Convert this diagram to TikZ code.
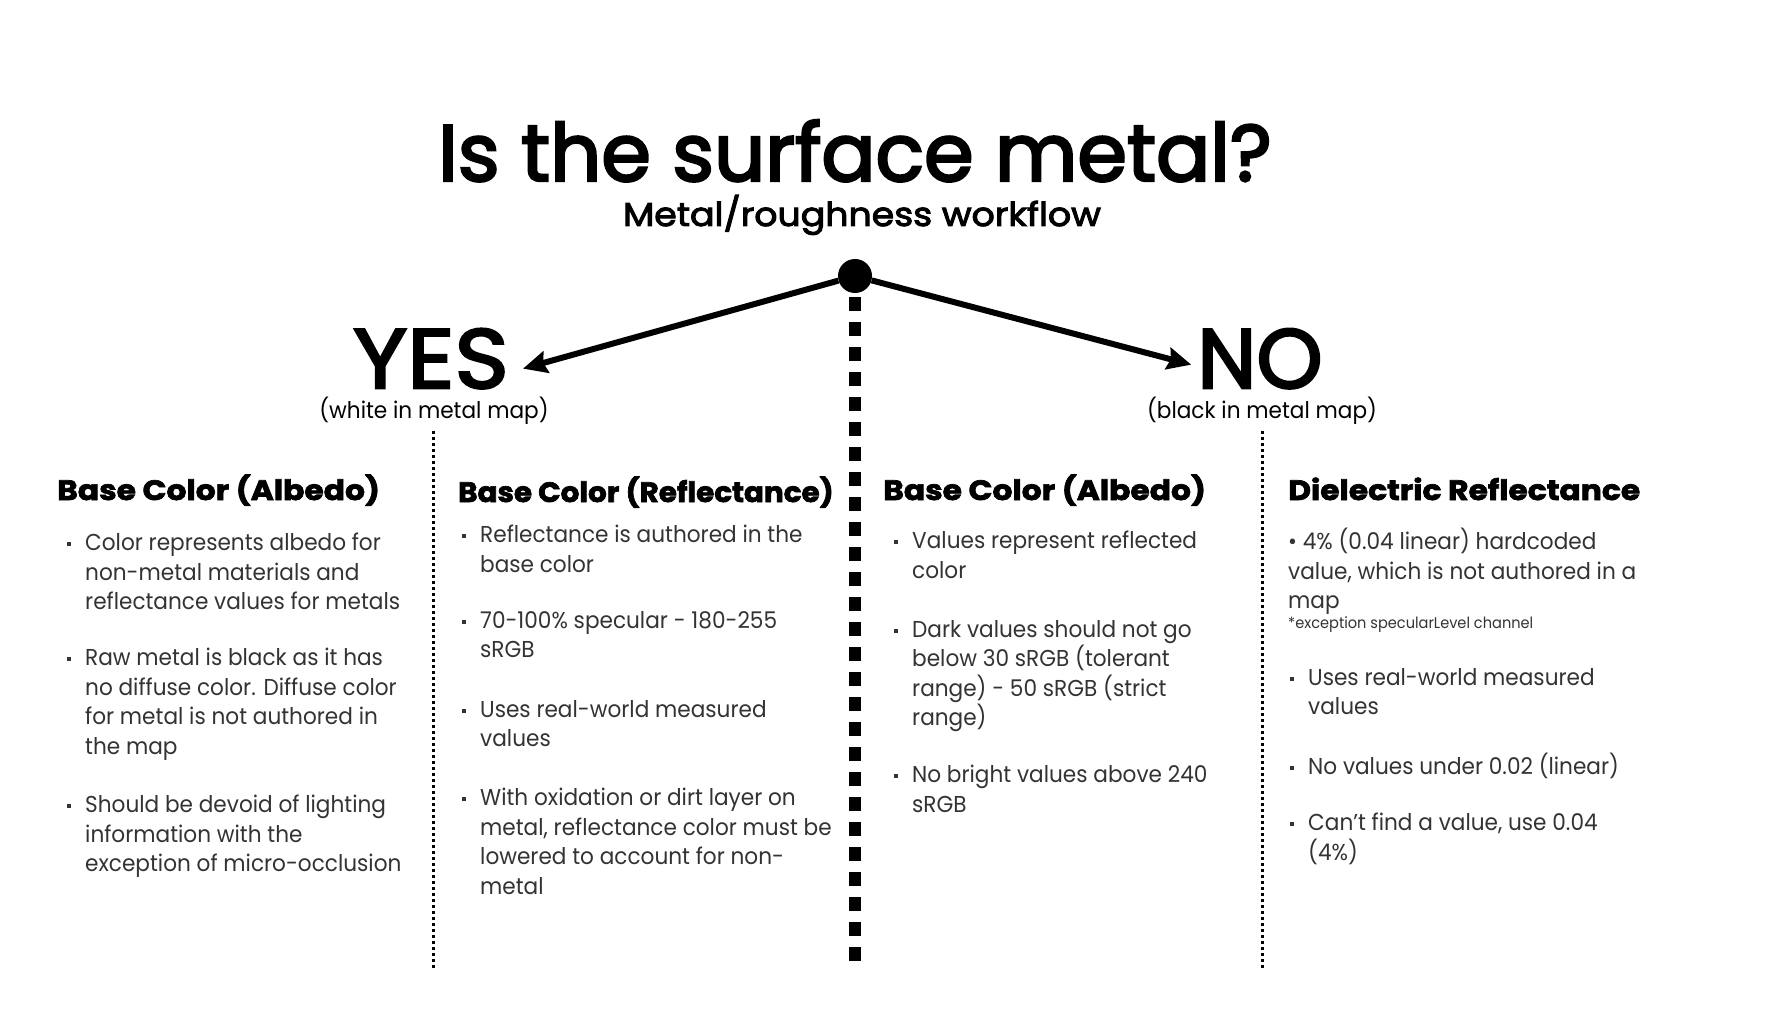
\documentclass[tikz,border=0pt]{standalone}
\usepackage{fontspec}
\setmainfont{Poppins}
\newfontfamily\titlefont{Poppins}[FakeBold=3]
\newfontfamily\medfont{Poppins}[FakeStretch=1.1, FakeBold=3]
\newfontfamily\headfont{Poppins}[FakeStretch=1.12, FakeBold=2.5]
\newfontfamily\bodyfont{Poppins}[FakeStretch=0.94]
\usetikzlibrary{arrows.meta, positioning, calc}

\newcommand\bul{\llap{\rule[4.5pt]{4pt}{4pt}\hspace{14pt}}}

\begin{document}
\begin{tikzpicture}[
      x=1pt, y=-1pt,
      bigtitle/.style={font=\titlefont\fontsize{80}{96}\selectfont, inner sep=0pt, anchor=base},
      subtitle/.style={font=\medfont\fontsize{33}{40}\selectfont, inner sep=0pt, anchor=base},
      answer/.style={font=\medfont\fontsize{84}{100}\selectfont, inner sep=0pt, anchor=base},
      mapnote/.style={font=\bodyfont\fontsize{23}{28}\selectfont, inner sep=0pt, anchor=base},
      colhead/.style={font=\headfont\bfseries\fontsize{28}{34}\selectfont, inner sep=0pt, anchor=base west},
      item/.style={font=\bodyfont\fontsize{23}{29.5}\selectfont, text=black!80, align=left, inner sep=0pt,
        anchor=north west, yshift=17pt, execute at begin node=\strut},
      smallnote/.style={font=\bodyfont\fontsize{15.5}{18}\selectfont, text=black!80, inner sep=0pt, anchor=base west},
      arrow/.style={-{Stealth[length=24pt, width=22pt, inset=3pt]}, line width=6pt},
      divider/.style={line width=3pt, dash pattern=on 3pt off 3pt},
      midline/.style={line width=12pt, dash pattern=on 14pt off 11pt}
    ]
    \useasboundingbox (0,0) rectangle (1778,1024);

    % question and the split
    \node[bigtitle] (title) at (855,181) {Is the surface metal?};
    \node[subtitle] (workflow) at (862,226) {Metal/roughness workflow};
    \node[circle, fill, inner sep=0pt, minimum size=34pt] (split) at (855,276) {};

    \node[answer, inner xsep=14pt] (yes) at (431,388) {YES};
    \node[answer, font=\titlefont\fontsize{84}{100}\selectfont, inner xsep=6pt] (no) at (1260,388) {NO};
    \node[mapnote] (yesnote) at (434,418) {(white in metal map)};
    \node[mapnote] (nonote) at (1262,418) {(black in metal map)};

    \draw[arrow] (split) -- ([yshift=-10pt]yes.east);
    \draw[arrow] (split) -- ([yshift=-6pt]no.west);

    % column separators
    \coordinate (midend) at (855,962);
    \draw[midline] ([yshift=-4pt]split.south) -- (midend);
    \draw[divider] (433,431) -- (433,968);
    \draw[divider] (1262,431) -- (1262,968);

    % metal: albedo
    \node[colhead] (metalalb) at (57,500) {Base Color (Albedo)};
    \node[item] (ma1) at (85,550) {\bul Color represents albedo for\\non-metal materials and\\reflectance values for metals};
    \node[item] (ma2) at (85,665) {\bul Raw metal is black as it has\\no diffuse color. Diffuse color\\for metal is not authored in\\the map};
    \node[item] (ma3) at (85,812) {\bul Should be devoid of lighting\\information with the\\exception of micro-occlusion};

    % metal: reflectance
    \node[colhead, font=\headfont\bfseries\fontsize{28}{34}\selectfont\addfontfeature{FakeStretch=1.05}] (metalref) at (458,502) {Base Color (Reflectance)};
    \node[item] (mr1) at (480,542) {\bul Reflectance is authored in the\\base color};
    \node[item] (mr2) at (480,628) {\bul 70-100\% specular - 180-255\\sRGB};
    \node[item] (mr3) at (480,717) {\bul Uses real-world measured\\values};
    \node[item] (mr4) at (480,805) {\bul With oxidation or dirt layer on\\metal, reflectance color must be\\lowered to account for non-\\metal};

    % non-metal: albedo
    \node[colhead] (dielalb) at (883,500) {Base Color (Albedo)};
    \node[item] (da1) at (912,548) {\bul Values represent reflected\\color};
    \node[item] (da2) at (912,637) {\bul Dark values should not go\\below 30 sRGB (tolerant\\range) - 50 sRGB (strict\\range)};
    \node[item] (da3) at (912,782) {\bul No bright values above 240\\sRGB};

    % non-metal: reflectance
    \node[colhead] (dielref) at (1288,500) {Dielectric Reflectance};
    \node[item] (dr1) at (1288,545) {\textbullet\ 4\% (0.04 linear) hardcoded\\value, which is not authored in a\\map};
    \node[smallnote] (dr1note) at (1288,628) {*exception specularLevel channel};
    \node[item] (dr2) at (1308,685) {\bul Uses real-world measured\\values};
    \node[item] (dr3) at (1308,770) {\bul No values under 0.02 (linear)};
    \node[item] (dr4) at (1308,830) {\bul Can’t find a value, use 0.04\\(4\%)};
  \end{tikzpicture}
\end{document}
